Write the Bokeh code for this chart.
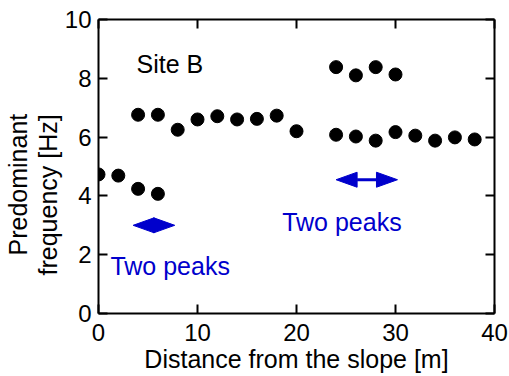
from bokeh.plotting import figure
from bokeh.models import (LinearAxis, Range1d, Label, FixedTicker, Title,
                          CustomJSTickFormatter)
from bokeh.embed import file_html
from bokeh.resources import INLINE

# ---- data ----
dist_main = [0, 2, 4, 6, 8, 10, 12, 14, 16, 18, 20, 24, 26, 28, 30, 32, 34, 36, 38]
freq_main = [4.73, 4.69, 6.76, 6.76, 6.25, 6.60, 6.71, 6.60, 6.62, 6.73, 6.20,
             6.08, 6.02, 5.88, 6.17, 6.05, 5.88, 5.99, 5.92]
dist_second = [4, 6, 24, 26, 28, 30]
freq_second = [4.24, 4.07, 8.38, 8.10, 8.38, 8.13]

x_ticks = [0, 10, 20, 30, 40]
y_ticks = [0, 2, 4, 6, 8, 10]

# "Two peaks" arrows: start, end, level
arrow_x_start = [3.5, 24.0]
arrow_x_end = [7.7, 30.2]
arrow_y = [3.0, 4.55]

FONT = "Liberation Sans"
BLUE = "#0000CC"

W, H = 509, 376
BL, BT = 98, 19
FW, FH = 396, 294
XMIN, XMAX, YMIN, YMAX = 0, 40, 0, 10

p = figure(width=W, height=H, output_backend="svg", toolbar_location=None,
           x_range=Range1d(XMIN, XMAX), y_range=Range1d(YMIN, YMAX),
           min_border_left=BL, min_border_right=W - BL - FW,
           min_border_top=BT, min_border_bottom=H - BT - FH,
           outline_line_color=None)
p.grid.visible = False
p.background_fill_color = "white"
p.border_fill_color = "white"


def style_axis(ax, ticks, show_labels):
    ax.ticker = FixedTicker(ticks=ticks)
    ax.major_tick_in = 9
    ax.major_tick_out = 0
    ax.minor_tick_line_color = None
    ax.axis_line_width = 2
    ax.axis_line_color = "black"
    ax.major_tick_line_width = 2
    ax.major_tick_line_color = "black"
    if show_labels:
        ax.major_label_text_font = FONT
        ax.major_label_text_font_size = "24px"
        ax.major_label_text_color = "black"
    else:
        ax.formatter = CustomJSTickFormatter(code="return ''")
        ax.major_label_standoff = 0


style_axis(p.xaxis[0], x_ticks, True)
p.xaxis[0].major_label_standoff = 10
p.xaxis[0].axis_label = "Distance from the slope [m]"
p.xaxis[0].axis_label_text_font = FONT
p.xaxis[0].axis_label_text_font_size = "25px"
p.xaxis[0].axis_label_text_font_style = "normal"
p.xaxis[0].axis_label_text_color = "black"
p.xaxis[0].axis_label_standoff = 1

style_axis(p.yaxis[0], y_ticks, True)
p.yaxis[0].major_label_standoff = 7

top_ax = LinearAxis()
style_axis(top_ax, x_ticks, False)
p.add_layout(top_ax, "above")
right_ax = LinearAxis()
style_axis(right_ax, y_ticks, False)
p.add_layout(right_ax, "right")

# y-axis title, two lines (first added is nearest the axis)
for txt, off in [("frequency [Hz]", 38), ("Predominant", 58)]:
    p.add_layout(Title(text=txt, align="left", offset=off, standoff=0,
                       text_font=FONT, text_font_size="25px",
                       text_font_style="normal", text_color="black"), "left")

# data points
p.scatter(dist_main, freq_main, size=13, color="black")
p.scatter(dist_second, freq_second, size=13, color="black")

# double-headed arrows built from their start/end values (head size in pixels)
px_x = FW / (XMAX - XMIN)
px_y = FH / (YMAX - YMIN)
HEAD_LEN = 21 / px_x
HEAD_HW = 7.5 / px_y
xs, ys = [], []
for x0, x1, y in zip(arrow_x_start, arrow_x_end, arrow_y):
    xs.append([x0, x0 + HEAD_LEN, x0 + HEAD_LEN])
    ys.append([y, y + HEAD_HW, y - HEAD_HW])
    xs.append([x1, x1 - HEAD_LEN, x1 - HEAD_LEN])
    ys.append([y, y + HEAD_HW, y - HEAD_HW])
p.patches(xs, ys, fill_color=BLUE, line_color=BLUE, line_width=1)
p.segment(x0=[x + HEAD_LEN for x in arrow_x_start], y0=arrow_y,
          x1=[x - HEAD_LEN for x in arrow_x_end], y1=arrow_y,
          line_color=BLUE, line_width=3)

# texts in the plot area
p.add_layout(Label(x=3.84, y=8.49, text="Site B", text_font=FONT,
                   text_font_size="25px", text_color="black",
                   text_baseline="alphabetic"))
p.add_layout(Label(x=1.2, y=1.6, text="Two peaks", text_font=FONT,
                   text_font_size="25px", text_color=BLUE,
                   text_baseline="alphabetic"))
p.add_layout(Label(x=18.55, y=3.1, text="Two peaks", text_font=FONT,
                   text_font_size="25px", text_color=BLUE,
                   text_baseline="alphabetic"))

open("out.html", "w").write(file_html(p, INLINE))
